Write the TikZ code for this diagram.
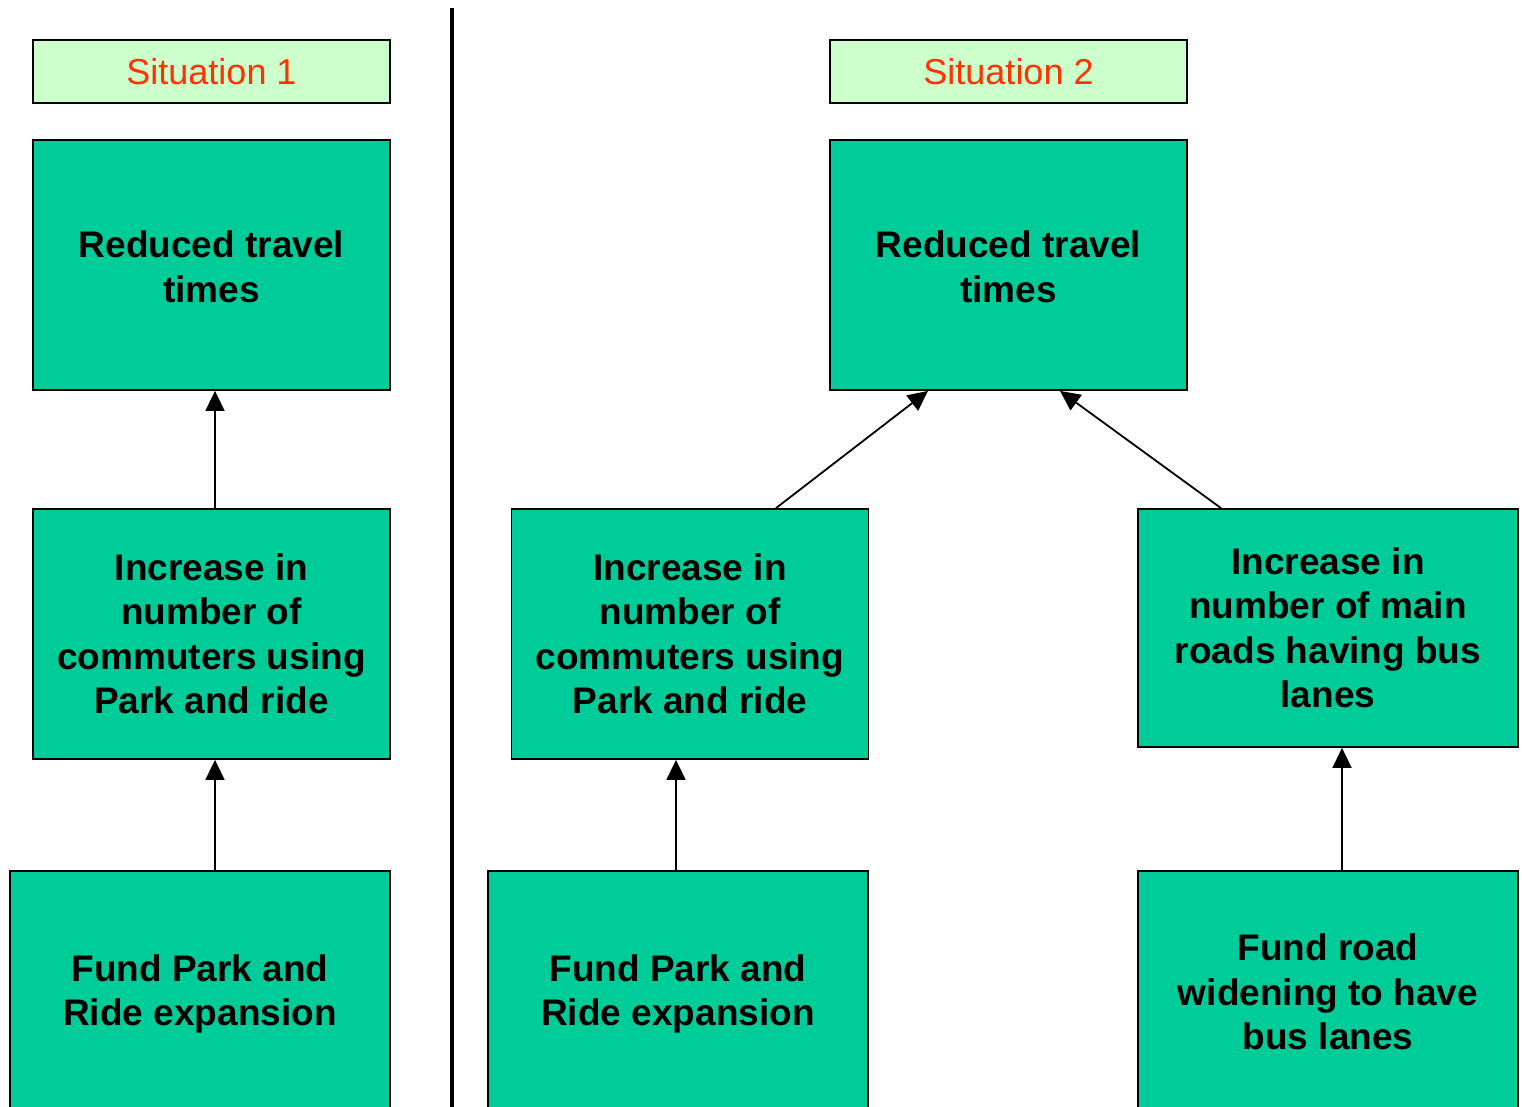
\documentclass[tikz,border=0pt]{standalone}
\usepackage{fontspec}
\setmainfont{Liberation Sans}
\usetikzlibrary{arrows.meta}
\definecolor{boxgreen}{HTML}{00CC99}
\definecolor{labelgreen}{HTML}{CCFFCC}
\definecolor{labelred}{HTML}{FF3300}
\begin{document}
\begin{tikzpicture}[x=1pt,y=-1pt,
  box/.style={draw=black, line width=1.8pt, fill=boxgreen, inner sep=0pt,
    font=\fontsize{37}{44.5}\selectfont\bfseries, align=center},
  boxtext/.style={font=\fontsize{37}{44.5}\selectfont\bfseries, align=center},
  titlebox/.style={draw=black, line width=1.8pt, fill=labelgreen, inner sep=0pt,
    minimum width=357pt, minimum height=63pt,
    font=\fontsize{36}{42}\selectfont, text=labelred},
  link/.style={line width=1.8pt, -{Triangle[length=20pt,width=19pt]}}]
\clip (0,0) rectangle (1522,1106);
\fill[white] (0,0) rectangle (1522,1106);

% divider between the two situations
\draw[line width=3.5pt] (452,8) -- (452,1120);

% situation 1
\node[titlebox] (t1) at (211.5,71.5) {Situation 1};
\node[box, minimum width=357pt, minimum height=250pt] (red1) at (211.5,265) {};
\node[boxtext] (red1t) at (red1.center) [yshift=-2pt] {Reduced travel\\times};
\node[box, minimum width=357pt, minimum height=250pt] (inc1) at (211.5,634) {Increase in\\number of\\commuters using\\Park and ride};
\node[box, minimum width=380pt, minimum height=250pt] (fund1) at (200,996) {};
\node[boxtext] (fund1t) at (fund1.center) [yshift=2pt] {Fund Park and\\Ride expansion};

\draw[link] ([xshift=3.5pt]fund1.north -| inc1.north) -- ([xshift=3.5pt]inc1.south);
\draw[link] ([xshift=3.5pt]inc1.north) -- ([xshift=3.5pt]red1.south);

% situation 2
\node[titlebox] (t2) at (1008.5,71.5) {Situation 2};
\node[box, minimum width=357pt, minimum height=250pt] (red2) at (1008.5,265) {};
\node[boxtext] (red2t) at (red2.center) [yshift=-2pt] {Reduced travel\\times};
\node[box, minimum width=357pt, minimum height=250pt] (inc2) at (690,634) {Increase in\\number of\\commuters using\\Park and ride};
\node[box, minimum width=380pt, minimum height=238pt] (inc3) at (1328,628) {Increase in\\number of main\\roads having bus\\lanes};
\node[box, minimum width=380pt, minimum height=250pt] (fund2) at (678,996) {};
\node[boxtext] (fund2t) at (fund2.center) [yshift=2pt] {Fund Park and\\Ride expansion};
\node[box, minimum width=380pt, minimum height=250pt] (fund3) at (1328,996) {};
\node[boxtext] (fund3t) at (fund3.center) [yshift=4pt] {Fund road\\widening to have\\bus lanes};

\draw[link] ([xshift=-2pt]fund2.north) -- ([xshift=-14pt]inc2.south);
\draw[link] ([xshift=14pt]fund3.north) -- ([xshift=14pt]inc3.south);
\draw[link] ([xshift=86pt]inc2.north) -- ([xshift=-80.5pt]red2.south);
\draw[link] ([xshift=-107pt]inc3.north) -- ([xshift=51.5pt]red2.south);
\end{tikzpicture}
\end{document}
